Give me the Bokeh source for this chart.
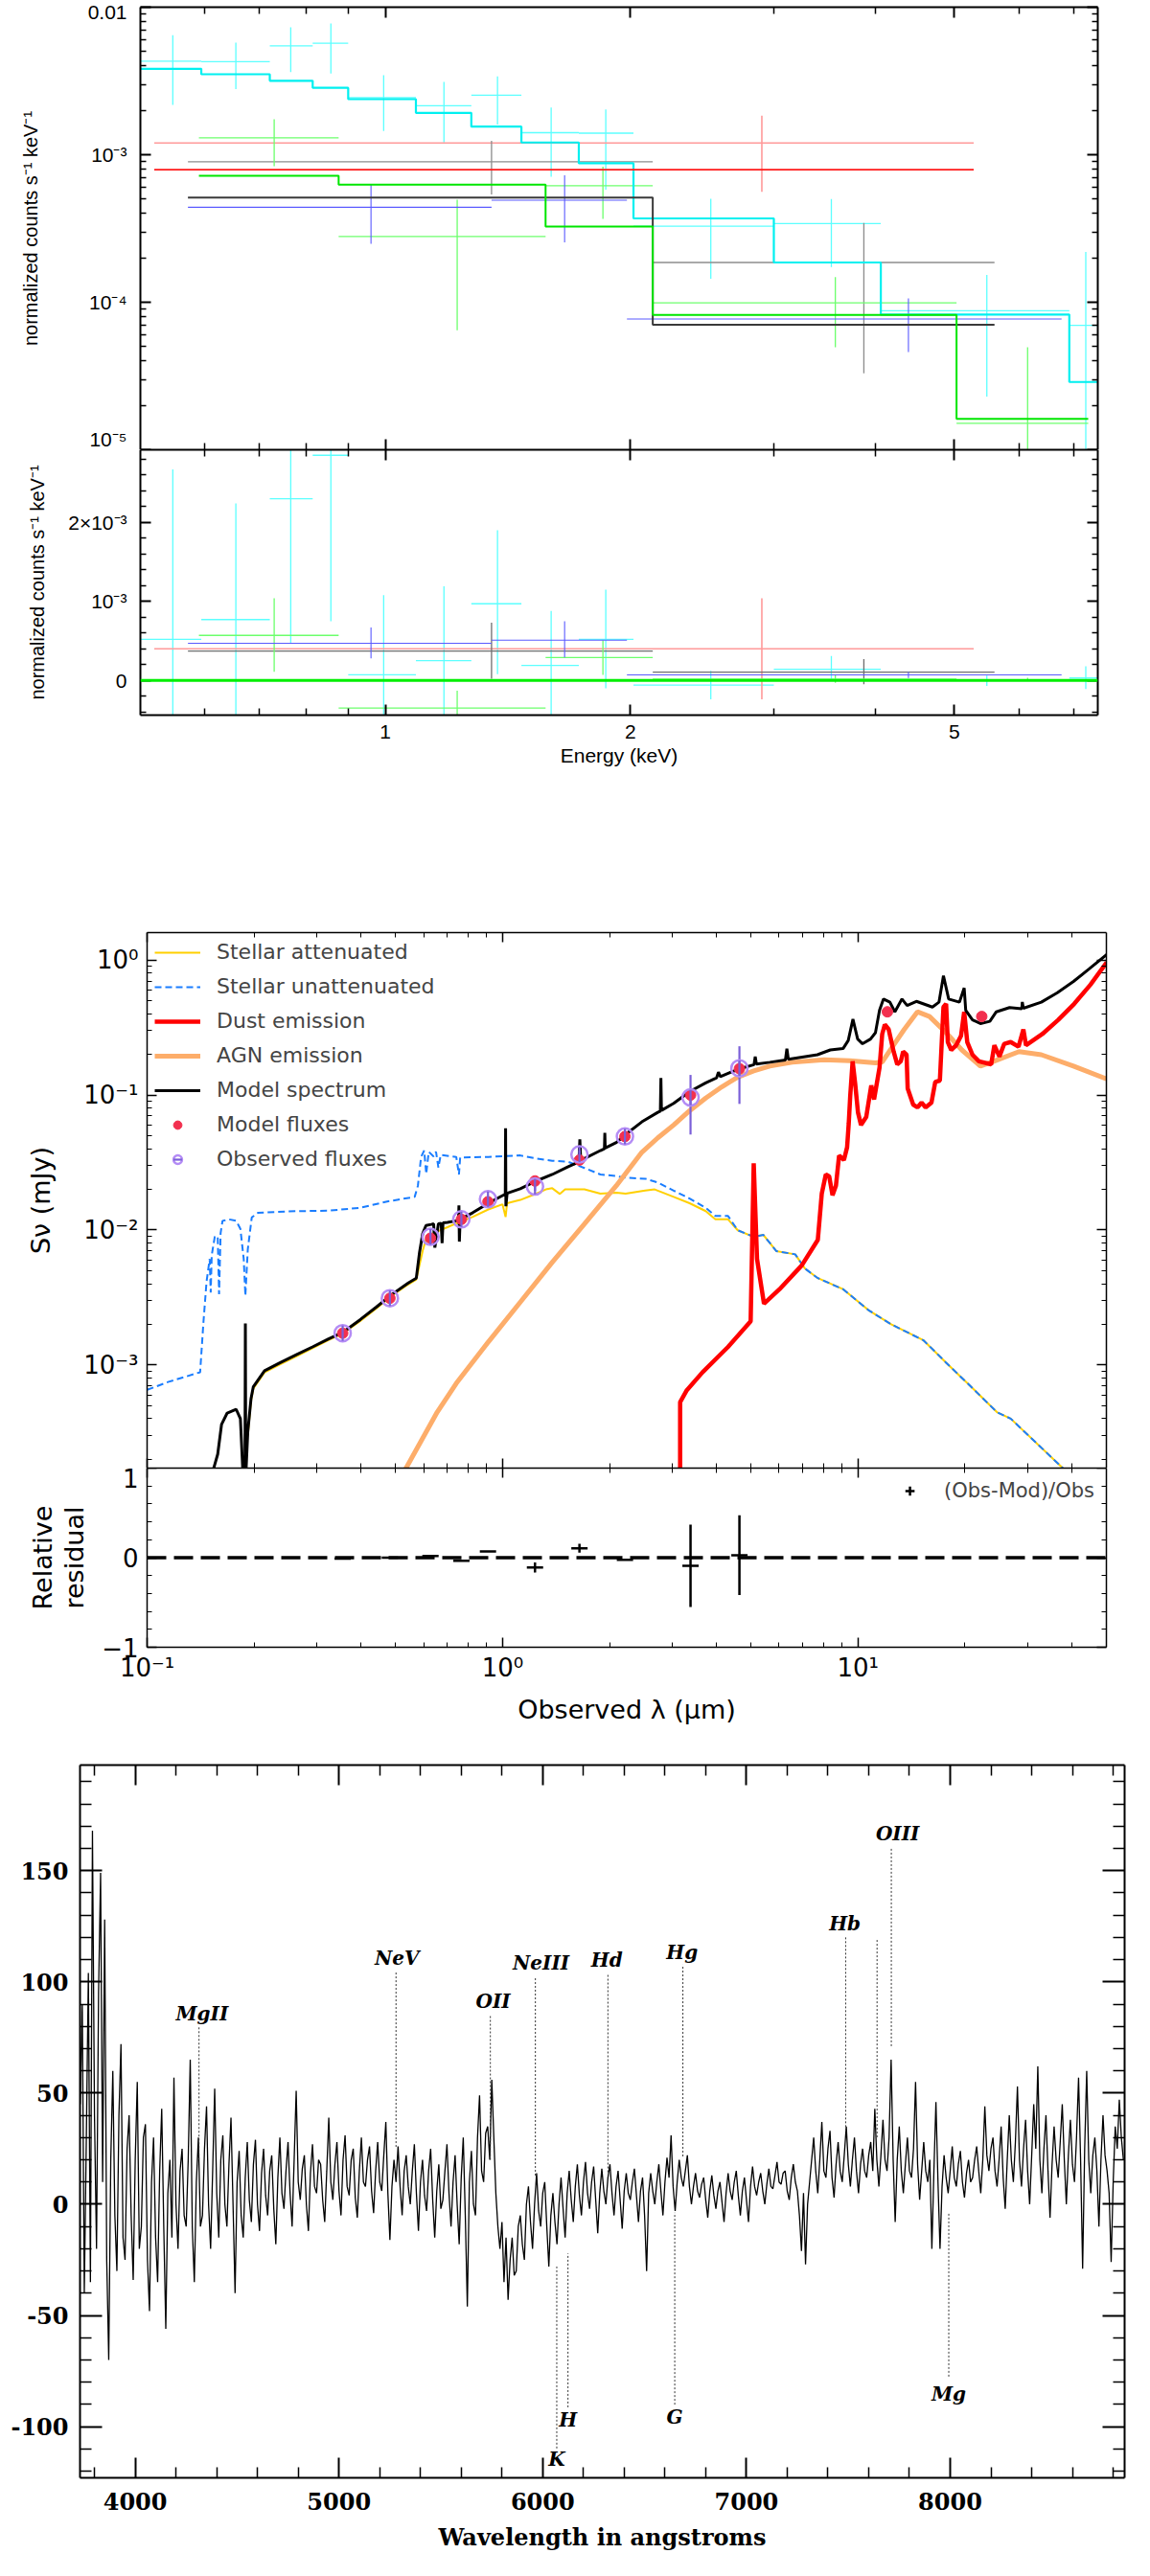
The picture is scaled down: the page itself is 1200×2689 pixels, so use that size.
import numpy as np
from bokeh.plotting import figure
from bokeh.layouts import column
from bokeh.models import Range1d, LogAxis, LinearAxis, FixedTicker, Legend, LegendItem, Span
from bokeh.core.properties import value
from bokeh.embed import file_html
from bokeh.resources import INLINE

# ---------------- X-ray spectra (5 datasets, normalized counts s^-1 keV^-1) ----------------
cyan_edges = [0.50, 0.594, 0.721, 0.814, 0.900, 1.090, 1.275, 1.469, 1.728, 2.017, 3.00, 4.06, 6.92, 7.50]
cyan_e = [0.548, 0.655, 0.765, 0.857, 0.995, 1.18, 1.373, 1.598, 1.865, 2.51, 3.53, 5.48, 7.25]
cyan_y = [4.31e-3, 4.27e-3, 5.47e-3, 5.69e-3, 2.44e-3, 2.15e-3, 2.53e-3, 1.41e-3, 1.40e-3, 3.28e-4, 3.41e-4, 8.75e-5, 6.98e-5]
cyan_hi = [6.45e-3, 5.75e-3, 7.31e-3, 7.76e-3, 3.46e-3, 3.12e-3, 3.40e-3, 2.09e-3, 2.03e-3, 5.03e-4, 5.00e-4, 1.53e-4, 2.19e-4]
cyan_lo = [2.18e-3, 2.79e-3, 3.63e-3, 3.55e-3, 1.45e-3, 1.21e-3, 1.60e-3, 7.1e-4, 5.8e-4, 1.44e-4, 1.73e-4, 2.29e-5, 8e-6]
cyan_mod = [3.82e-3, 3.51e-3, 3.17e-3, 2.84e-3, 2.38e-3, 1.92e-3, 1.55e-3, 1.21e-3, 8.75e-4, 3.70e-4, 1.86e-4, 8.26e-5, 2.88e-5]
cyan_res = [0.52e-3, 0.77e-3, 2.30e-3, 2.85e-3, 0.07e-3, 0.25e-3, 0.97e-3, 0.19e-3, 0.52e-3, -0.06e-3, 0.14e-3, 0.0, 0.03e-3]
cyan_res_hi = [2.67e-3, 2.24e-3, 4.1e-3, 4.9e-3, 1.08e-3, 1.19e-3, 1.90e-3, 0.88e-3, 1.15e-3, 0.12e-3, 0.31e-3, 0.06e-3, 0.18e-3]
cyan_res_lo = [-1.6e-3, -0.7e-3, 0.47e-3, 0.75e-3, -0.9e-3, -0.7e-3, 0.08e-3, -0.5e-3, -0.10e-3, -0.24e-3, -0.01e-3, -0.07e-3, -0.11e-3]

red_edges = [0.52, 5.28]
red_e = [2.9]
red_y = [1.2e-3]
red_hi = [1.84e-3]
red_lo = [5.6e-4]
red_mod = [7.92e-4]
red_res = [0.40e-3]
red_res_hi = [1.04e-3]
red_res_lo = [-0.24e-3]

gray_edges = [0.572, 2.13, 5.6]
gray_e = [1.35, 3.87]
gray_y = [8.95e-4, 1.86e-4]
gray_hi = [1.24e-3, 3.44e-4]
gray_lo = [5.37e-4, 3.3e-5]
gray_mod = [5.12e-4, 7.05e-5]
gray_res = [0.37e-3, 0.105e-3]
gray_res_hi = [0.73e-3, 0.27e-3]
gray_res_lo = [0.02e-3, -0.05e-3]

green_edges = [0.59, 0.876, 1.573, 2.13, 5.03, 7.3]
green_e = [0.73, 1.225, 1.85, 3.57, 6.15]
green_y = [1.3e-3, 2.79e-4, 6.17e-4, 9.9e-5, 1.51e-5]
green_hi = [1.74e-3, 4.95e-4, 8.3e-4, 1.48e-4, 4.95e-5]
green_lo = [8.37e-4, 6.45e-5, 3.67e-4, 4.95e-5, 9e-6]
green_mod = [7.2e-4, 6.27e-4, 3.26e-4, 8.2e-5, 1.62e-5]
green_res = [0.57e-3, -0.35e-3, 0.29e-3, 0.017e-3, 0.0]
green_res_hi = [1.04e-3, -0.13e-3, 0.51e-3, 0.066e-3, 0.034e-3]
green_res_lo = [0.11e-3, -0.56e-3, 0.07e-3, -0.032e-3, -0.007e-3]

blue_edges = [0.572, 1.35, 1.98, 6.77]
blue_e = [0.96, 1.66, 4.39]
blue_y = [4.4e-4, 4.92e-4, 7.69e-5]
blue_hi = [6.3e-4, 7.24e-4, 1.06e-4]
blue_lo = [2.49e-4, 2.55e-4, 4.6e-5]
blue_res = [0.47e-3, 0.51e-3, 0.07e-3]
blue_res_hi = [0.67e-3, 0.75e-3, 0.105e-3]
blue_res_lo = [0.28e-3, 0.29e-3, 0.03e-3]

# ---------------- SED fit (wavelength in micron, flux in mJy) ----------------
model_lam = [0.150, 0.154, 0.158, 0.162, 0.168, 0.178, 0.183, 0.1862, 0.1885, 0.1890,
             0.1895, 0.192, 0.196, 0.199, 0.214, 0.237, 0.263, 0.292, 0.324, 0.355,
             0.398, 0.442, 0.490, 0.543, 0.572, 0.584, 0.596, 0.609, 0.630, 0.640,
             0.645, 0.660, 0.672, 0.676, 0.680, 0.700, 0.741, 0.752, 0.754, 0.756,
             0.760, 0.823, 0.912, 1.000, 1.018, 1.020, 1.022, 1.030, 1.122, 1.245,
             1.380, 1.530, 1.640, 1.650, 1.660, 1.700, 1.885, 1.935, 1.940, 1.945,
             2.090, 2.220, 2.466, 2.735, 2.780, 2.790, 2.800, 3.030, 3.360, 3.730,
             4.000, 4.050, 4.100, 4.590, 5.100, 5.140, 5.180, 5.650, 6.250, 6.310,
             6.370, 7.690, 8.360, 9.080, 9.390, 9.680, 9.980, 10.30, 10.85, 11.20,
             11.50, 11.80, 12.30, 12.70, 13.30, 13.75, 14.60, 16.20, 16.90, 17.40,
             18.00, 19.30, 19.90, 20.10, 21.00, 22.10, 23.50, 24.50, 26.70, 28.90,
             29.00, 29.20, 32.80, 36.40, 40.40, 44.80, 50.10]
model_flux = [1.5e-4, 1.72e-4, 2.18e-4, 3.63e-4, 4.4e-4, 4.7e-4, 4.0e-4, 1.5e-4, 1.5e-4, 2.03e-3,
              1.5e-4, 3.2e-4, 5.6e-4, 6.9e-4, 9.06e-4, 1.04e-3, 1.19e-3, 1.36e-3, 1.56e-3, 1.74e-3,
              2.17e-3, 2.69e-3, 3.35e-3, 4.05e-3, 4.4e-3, 6.8e-3, 9.4e-3, 1.08e-2, 1.10e-2, 1.11e-2,
              7.4e-3, 1.11e-2, 1.12e-2, 8.0e-3, 1.13e-2, 1.14e-2, 1.17e-2, 1.17e-2, 1.52e-2, 8.2e-3,
              1.2e-2, 1.34e-2, 1.58e-2, 1.80e-2, 1.84e-2, 5.68e-2, 1.5e-2, 1.87e-2, 2.02e-2, 2.31e-2,
              2.58e-2, 2.95e-2, 3.2e-2, 4.69e-2, 3.25e-2, 3.39e-2, 3.88e-2, 4.0e-2, 5.24e-2, 4.05e-2,
              4.45e-2, 5.1e-2, 6.33e-2, 7.45e-2, 7.6e-2, 0.134, 7.7e-2, 8.68e-2, 0.106, 0.123,
              0.134, 0.148, 0.137, 0.155, 0.168, 0.193, 0.170, 0.175, 0.182, 0.221,
              0.184, 0.199, 0.216, 0.221, 0.254, 0.365, 0.26, 0.24, 0.26, 0.29,
              0.425, 0.515, 0.488, 0.414, 0.515, 0.461, 0.495, 0.449, 0.488, 0.766,
              0.515, 0.488, 0.622, 0.425, 0.361, 0.339, 0.352, 0.414, 0.445, 0.437,
              0.49, 0.44, 0.488, 0.574, 0.695, 0.864, 1.10]

att_lam = [0.192, 0.196, 0.199, 0.214, 0.237, 0.263, 0.292, 0.324, 0.355, 0.398,
           0.442, 0.490, 0.543, 0.572, 0.584, 0.596, 0.609, 0.640, 0.700, 0.741,
           0.823, 0.912, 1.000, 1.020, 1.030, 1.122, 1.245, 1.324, 1.380, 1.450,
           1.500, 1.700, 1.885, 2.090, 2.220, 2.520, 2.680, 3.030, 3.360, 3.730,
           3.970, 4.310, 4.590, 5.090, 5.420, 5.890, 6.660, 7.100, 7.710, 9.100,
           10.70, 12.40, 15.30, 17.70, 20.80, 24.60, 26.90, 37.70, 39.00]
att_flux = [3.0e-4, 5.4e-4, 6.7e-4, 8.8e-4, 1.01e-3, 1.16e-3, 1.33e-3, 1.53e-3, 1.71e-3, 2.12e-3,
            2.63e-3, 3.28e-3, 3.95e-3, 4.3e-3, 5.5e-3, 7.0e-3, 8.5e-3, 9.5e-3, 1.05e-2, 1.12e-2,
            1.25e-2, 1.42e-2, 1.55e-2, 1.25e-2, 1.58e-2, 1.67e-2, 1.86e-2, 2.0e-2, 2.04e-2, 1.85e-2,
            2.0e-2, 2.0e-2, 1.86e-2, 1.89e-2, 1.86e-2, 1.96e-2, 2.0e-2, 1.76e-2, 1.58e-2, 1.38e-2,
            1.2e-2, 1.2e-2, 9.95e-3, 8.9e-3, 9.2e-3, 6.98e-3, 6.6e-3, 5.17e-3, 4.4e-3, 3.63e-3,
            2.55e-3, 2.0e-3, 1.52e-3, 1.04e-3, 6.9e-4, 4.47e-4, 4.0e-4, 1.72e-4, 1.4e-4]

unatt_lam = [0.100, 0.115, 0.141, 0.144, 0.147, 0.150, 0.151, 0.152, 0.155, 0.158,
             0.1594, 0.161, 0.163, 0.170, 0.178, 0.183, 0.187, 0.189, 0.192, 0.197,
             0.205, 0.263, 0.324, 0.398, 0.470, 0.566, 0.578, 0.590, 0.602, 0.610,
             0.620, 0.640, 0.650, 0.660, 0.670, 0.741, 0.754, 0.760, 0.912, 1.122,
             1.245, 1.380, 1.530, 1.700, 1.885, 2.090, 2.220, 2.520, 2.735, 3.030,
             3.360, 3.730, 3.970, 4.310, 4.590, 5.090, 5.420, 5.890, 6.660, 7.100,
             7.710, 9.100, 10.70, 12.40, 15.30, 17.70, 20.80, 24.60, 26.90, 37.70,
             39.00]
unatt_flux = [6.54e-4, 7.5e-4, 8.83e-4, 2.05e-3, 4.16e-3, 6.1e-3, 3.44e-3, 6.5e-3, 8.9e-3, 9.0e-3,
              3.35e-3, 9.5e-3, 1.17e-2, 1.2e-2, 1.17e-2, 1.02e-2, 6.1e-3, 3.26e-3, 7.2e-3, 1.24e-2,
              1.34e-2, 1.38e-2, 1.39e-2, 1.46e-2, 1.62e-2, 1.76e-2, 2.13e-2, 3.48e-2, 3.88e-2, 2.6e-2,
              3.8e-2, 3.5e-2, 3.8e-2, 2.9e-2, 3.6e-2, 3.48e-2, 2.58e-2, 3.45e-2, 3.48e-2, 3.57e-2,
              3.39e-2, 3.26e-2, 3.2e-2, 2.88e-2, 2.58e-2, 2.51e-2, 2.44e-2, 2.4e-2, 2.25e-2, 1.96e-2,
              1.71e-2, 1.46e-2, 1.27e-2, 1.27e-2, 9.95e-3, 8.9e-3, 9.2e-3, 6.98e-3, 6.6e-3, 5.17e-3,
              4.4e-3, 3.63e-3, 2.55e-3, 2.0e-3, 1.52e-3, 1.04e-3, 6.9e-4, 4.47e-4, 4.0e-4, 1.72e-4,
              1.4e-4]

agn_lam = [0.52, 0.655, 0.741, 0.912, 1.122, 1.38, 1.70, 2.09, 2.466, 2.735,
           3.03, 3.36, 3.73, 4.14, 4.59, 5.09, 5.65, 6.53, 8.03, 9.48,
           11.2, 11.7, 12.4, 13.5, 14.7, 15.9, 17.7, 19.6, 22.1, 24.1,
           28.4, 32.8, 40.4, 50.0]
agn_flux = [1.5e-4, 4.47e-4, 7.3e-4, 1.48e-3, 2.92e-3, 5.77e-3, 1.11e-2, 2.13e-2, 3.77e-2, 4.82e-2,
            6.0e-2, 7.66e-2, 9.5e-2, 0.115, 0.136, 0.151, 0.164, 0.175, 0.183, 0.18,
            0.173, 0.176, 0.221, 0.307, 0.414, 0.382, 0.29, 0.216, 0.164, 0.178,
            0.21, 0.199, 0.164, 0.132]

dust_lam = [3.16, 3.16, 3.30, 3.65, 4.31, 4.99, 5.09, 5.20, 5.44, 6.01,
            6.95, 7.71, 7.91, 8.12, 8.30, 8.48, 8.67, 8.85, 9.13, 9.32,
            9.42, 9.51, 9.66, 9.82, 10.0, 10.2, 10.55, 10.9, 11.1, 11.5,
            11.7, 11.9, 12.2, 12.6, 12.9, 13.2, 13.4, 13.7, 13.8, 14.3,
            14.7, 15.1, 15.5, 16.1, 16.5, 17.0, 17.4, 17.7, 17.9, 18.3,
            18.9, 19.5, 19.9, 20.3, 21.0, 21.9, 23.7, 24.2, 25.0, 25.8,
            26.9, 28.3, 29.2, 29.7, 33.0, 36.6, 40.6, 45.1, 50.1]
dust_flux = [1.5e-4, 5.3e-4, 6.5e-4, 8.8e-4, 1.36e-3, 2.11e-3, 3.12e-2, 6.1e-3, 2.84e-3, 3.63e-3,
             5.47e-3, 8.45e-3, 1.86e-2, 2.58e-2, 2.5e-2, 1.81e-2, 2.13e-2, 3.57e-2, 3.3e-2, 4.1e-2,
             6.16e-2, 9.8e-2, 0.178, 0.122, 7.45e-2, 6.0e-2, 6.87e-2, 0.118, 9.27e-2, 0.16,
             0.283, 0.333, 0.307, 0.21, 0.169, 0.178, 0.21, 0.199, 0.112, 8.5e-2,
             8.1e-2, 8.8e-2, 8.1e-2, 8.8e-2, 0.125, 0.128, 0.449, 0.475, 0.247, 0.216,
             0.234, 0.275, 0.414, 0.247, 0.199, 0.178, 0.169, 0.234, 0.193, 0.24,
             0.247, 0.228, 0.307, 0.234, 0.283, 0.361, 0.475, 0.658, 0.963]

band_lam = [0.355, 0.482, 0.627, 0.766, 0.910, 1.234, 1.646, 2.210, 3.380, 4.640]
obs_flux = [1.72e-3, 3.12e-3, 8.9e-3, 1.20e-2, 1.69e-2, 2.10e-2, 3.63e-2, 4.93e-2, 9.6e-2, 0.158]
obs_err = [0.0, 0.0, 0.0, 0.0, 0.0, 1.5e-3, 2.5e-3, 0.0, 0.045, 0.072]
mod_lam = [0.355, 0.482, 0.627, 0.766, 0.910, 1.234, 1.646, 2.210, 3.380, 4.640, 12.1, 22.3]
mod_flux = [1.72e-3, 3.12e-3, 8.7e-3, 1.20e-2, 1.62e-2, 2.31e-2, 3.3e-2, 4.93e-2, 0.100, 0.157, 0.414, 0.382]
resid = [-0.01, 0.0, 0.02, -0.035, 0.07, -0.11, 0.105, -0.025, -0.09, 0.028]
resid_err = [0.0, 0.0, 0.0, 0.0, 0.0, 0.057, 0.05, 0.0, 0.46, 0.446]

# ---------------- optical spectrum (flux vs wavelength in angstroms, 10 A sampling) ----------------
spec_wave = np.arange(3730, 8851, 10)
spec_flux = [45, 90, -40, 30, 104, -35, 168, 40, -20, 95, 149, 10, 128, -25, -70, 20, 60, -5, -30, 40,
             72, -15, -25, 25, 40, -5, -34, 20, 55, -20, -10, 30, 36, -25, -48, 10, 30, -15, -35, 15,
             43, -10, -56, 5, 20, -15, 57, 0, -20, 15, 25, -5, -10, 20, 65, -10, -35, 10, 30, -10,
             -5, 25, 44, 0, -20, 15, 52, 5, -15, 20, 31, 0, -10, 18, 39, 0, -40, 10, 24, -5,
             -15, 12, 28, 2, -8, 18, 29, 0, -12, 14, 25, 4, -5, 15, 22, -2, -18, 12, 30, 5,
             -2, 15, 28, 5, -10, 20, 51, 10, 2, 16, 22, 0, -12, 14, 27, 8, 5, 20, 18, 2,
             -8, 15, 39, 10, 2, 18, 28, 6, -5, 20, 31, 8, 4, 20, 25, 3, -6, 15, 30, 10,
             8, 20, 26, 6, -4, 15, 28, 10, 6, 22, 37, 5, -16, 8, 20, 10, 26, 8, -5, 15,
             22, 8, 0, 15, 27, 5, -12, 10, 20, 4, -3, 15, 25, 2, -15, 6, 18, -2, 2, 15,
             27, 5, -10, 10, 22, 0, -18, 12, 30, -5, -46, 10, 24, 0, -5, 30, 49, 15, 10, 32,
             35, 20, 56, 30, 5, -10, -20, -8, -35, -15, -43, -25, -15, -32, -30, -10, -5, -18, -25, 0,
             8, -8, -20, 0, 14, -3, -10, 5, 10, -10, -28, -5, 5, -8, -18, 0, 12, -2, -15, 5,
             15, 2, -8, 8, 18, 4, -5, 10, 19, 5, -2, 10, 17, 2, -13, 5, 16, 6, 0, 12,
             18, 5, -5, 8, 15, 2, -11, 6, 14, 5, 2, 10, 16, 4, -8, 6, 12, -5, -30, 5,
             14, 6, 0, 10, 18, 6, -5, 10, 21, 12, 31, 8, -3, 10, 20, 12, 8, 15, 22, 8,
             0, 8, 14, 6, 3, 9, 12, 2, -6, 6, 13, 4, -2, 6, 10, 1, -8, 5, 14, 6,
             2, 10, 15, 4, -5, 6, 12, 2, -8, 8, 17, 8, 4, 10, 14, 6, 0, 9, 16, 8,
             7, 13, 19, 10, 9, 14, 15, 6, 2, 12, 18, 10, 6, -5, -21, 5, -27, 0, 10, 20,
             30, 15, 5, 20, 37, 15, 12, 25, 33, 12, 3, 18, 28, 15, 10, 22, 35, 18, 8, 20,
             30, 15, 5, 18, 25, 15, 12, 22, 28, 15, 43, 20, 8, 22, 38, 20, 15, 30, 65, 20,
             -8, 20, 35, 15, 5, 18, 30, 15, 12, 25, 55, 18, 2, 15, 28, 15, 10, 20, -20, 15,
             46, 10, -20, 8, 22, 12, 5, 15, 26, 12, 8, 18, 24, 10, 3, 14, 20, 10, 12, 20,
             26, 15, 5, 20, 44, 22, 15, 25, 30, 15, 8, 20, 35, 12, -2, 20, 40, 20, 10, 28,
             53, 20, 8, 25, 38, 15, 0, 22, 45, 25, 62, 20, 5, 25, 40, 15, -6, 18, 35, 20,
             12, 28, 45, 20, 0, 22, 38, 18, 10, 30, 57, 20, -29, 25, 60, 20, 5, 22, 30, 15,
             -10, 20, 40, 22, 15, 5, -26, 10, 35, 25, 47, 30, 20]

em_names = ["MgII", "NeV", "OII", "NeIII", "Hd", "Hg", "Hb", "OIII"]
em_wave = [4313, 5280, 5743, 5964, 6320, 6688, 7487, 7711]
em_top = [79.7, 104.8, 85.4, 101.9, 103.4, 107.7, 120.6, 160.5]
em_bot = [20.1, 25.8, 20.0, 12.9, 14.4, 21.5, 33.0, 71.1]
em_text_x = [4328, 5285, 5757, 5992, 6315, 6684, 7483, 7742]
em_text_y = [85.6, 110.6, 91.2, 108.4, 109.8, 113.4, 126.4, 166.5]
extra_wave = [7641]
extra_top = [119.2]
extra_bot = [30.1]
ab_names = ["K", "H", "G", "Mg"]
ab_wave = [6069, 6124, 6648, 7993]
ab_top = [-28.0, -22.1, -3.8, -3.8]
ab_bot = [-109.8, -91.3, -90.1, -77.5]
ab_text_y = [-114.5, -97.0, -95.5, -85.5]


def log_minor(decades):
    return [m * 10.0 ** d for d in decades for m in range(2, 10)]


def add_axis(p, cls, side, ticks, minor, labels=None, tin=10, tmin=5, lw=2,
             font="DejaVu Sans", size="20px", style="normal", standoff=8,
             title=None, title_size=None, title_standoff=10):
    ax = cls(ticker=FixedTicker(ticks=ticks, minor_ticks=minor))
    ax.major_tick_in, ax.major_tick_out = tin, 0
    ax.minor_tick_in, ax.minor_tick_out = tmin, 0
    ax.axis_line_width = lw
    ax.major_tick_line_width = lw
    ax.minor_tick_line_width = max(1, lw - 0.5)
    if labels is None:
        # tick marks only, no tick text on this side
        ax.major_label_overrides = {t: "" for t in ticks}
        ax.major_label_text_font_size = "1px"
        ax.major_label_standoff = 0
    else:
        ax.major_label_overrides = dict(zip(ticks, labels))
        ax.major_label_text_font = font
        ax.major_label_text_font_size = size
        ax.major_label_text_font_style = style
        ax.major_label_text_color = "black"
        ax.major_label_standoff = standoff
    if title is not None:
        ax.axis_label = title
        ax.axis_label_text_font = font
        ax.axis_label_text_font_size = title_size or size
        ax.axis_label_text_font_style = style
        ax.axis_label_text_color = "black"
        ax.axis_label_standoff = title_standoff
    p.add_layout(ax, side)
    return ax


def base_fig(**kw):
    p = figure(toolbar_location=None, output_backend="svg",
               x_axis_location=None, y_axis_location=None, **kw)
    p.grid.grid_line_color = None
    p.outline_line_color = None
    return p


def xcross(p, edges, e, y, lo, hi, color, lw=1.3):
    p.segment(x0=edges[:-1], x1=edges[1:], y0=y, y1=y, line_color=color, line_width=lw)
    p.segment(x0=e, x1=e, y0=lo, y1=hi, line_color=color, line_width=lw)


def model_step(p, edges, mod, color, lw=2):
    p.step(x=edges, y=list(mod) + [mod[-1]], mode="after", line_color=color, line_width=lw)


XF = "Liberation Sans"
e_ticks = [1, 2, 5]
e_minor = [0.6, 0.7, 0.8, 0.9, 3, 4, 6, 7]
e_range = Range1d(0.5, 7.5)

# ---- panel A: X-ray spectra ----
pa = base_fig(x_axis_type="log", y_axis_type="log", x_range=e_range, y_range=Range1d(1e-5, 1e-2),
              frame_width=999, frame_height=462, min_border_left=146, min_border_right=30,
              min_border_top=7, min_border_bottom=0)
cy_ticks = [1e-5, 1e-4, 1e-3, 1e-2]
add_axis(pa, LogAxis, "left", cy_ticks, log_minor([-5, -4, -3]), ["10⁻⁵", "10⁻⁴", "10⁻³", "0.01"],
         tin=11, tmin=6, font=XF, size="21px", standoff=14,
         title="normalized counts s⁻¹ keV⁻¹", title_size="20px", title_standoff=46)
add_axis(pa, LogAxis, "right", cy_ticks, log_minor([-5, -4, -3]), tin=11, tmin=6)
add_axis(pa, LogAxis, "above", e_ticks, e_minor, tin=11, tmin=7)
add_axis(pa, LogAxis, "below", e_ticks, e_minor, tin=11, tmin=7)

xcross(pa, cyan_edges, cyan_e, cyan_y, cyan_lo, cyan_hi, "#5cffff")
xcross(pa, red_edges, red_e, red_y, red_lo, red_hi, "#ff9a9a", lw=1.6)
xcross(pa, gray_edges, gray_e, gray_y, gray_lo, gray_hi, "#8c8c8c")
xcross(pa, green_edges, green_e, green_y, green_lo, green_hi, "#6cff6c")
xcross(pa, blue_edges, blue_e, blue_y, blue_lo, blue_hi, "#5a5aff", lw=1.1)
model_step(pa, cyan_edges, cyan_mod, "#00f0f0", lw=2.2)
model_step(pa, red_edges, red_mod, "#ff1a1a", lw=1.6)
model_step(pa, gray_edges, gray_mod, "#3a3a3a", lw=2)
model_step(pa, green_edges, green_mod, "#00e600", lw=2)

# ---- panel B: X-ray residuals ----
pb = base_fig(x_axis_type="log", x_range=e_range, y_range=Range1d(-0.00044, 0.00292),
              frame_width=999, frame_height=277, min_border_left=146, min_border_right=30,
              min_border_top=0, min_border_bottom=207)
r_ticks = [0.0, 0.001, 0.002]
r_minor = [v * 1e-4 for v in range(-4, 30, 2) if v % 10]
add_axis(pb, LinearAxis, "left", r_ticks, r_minor, ["0", "10⁻³", "2×10⁻³"],
         tin=11, tmin=6, font=XF, size="21px", standoff=14,
         title="normalized counts s⁻¹ keV⁻¹", title_size="20px", title_standoff=18)
add_axis(pb, LinearAxis, "right", r_ticks, r_minor, tin=11, tmin=6)
add_axis(pb, LogAxis, "above", e_ticks, e_minor, tin=11, tmin=7)
add_axis(pb, LogAxis, "below", e_ticks, e_minor, ["1", "2", "5"], tin=11, tmin=7,
         font=XF, size="21px", standoff=10, title="Energy (keV)", title_size="21px", title_standoff=3)

xcross(pb, cyan_edges, cyan_e, cyan_res, cyan_res_lo, cyan_res_hi, "#5cffff")
xcross(pb, red_edges, red_e, red_res, red_res_lo, red_res_hi, "#ff9a9a", lw=1.6)
xcross(pb, gray_edges, gray_e, gray_res, gray_res_lo, gray_res_hi, "#6e6e6e")
xcross(pb, green_edges, green_e, green_res, green_res_lo, green_res_hi, "#6cff6c")
xcross(pb, blue_edges, blue_e, blue_res, blue_res_lo, blue_res_hi, "#5a5aff", lw=1.1)
pb.add_layout(Span(location=0, dimension="width", line_color="#00ee00", line_width=3))

# ---- panel C: SED ----
SF = "DejaVu Sans"
lam_range = Range1d(0.1, 50)
lam_ticks = [0.1, 1, 10]
lam_minor = log_minor([-1, 0]) + [20, 30, 40]
pc = base_fig(x_axis_type="log", y_axis_type="log", x_range=lam_range, y_range=Range1d(1.72e-4, 1.6),
              frame_width=1001, frame_height=559, min_border_left=153, min_border_right=20,
              min_border_top=20, min_border_bottom=0)
s_ticks = [1e-3, 1e-2, 1e-1, 1.0]
s_minor = [v for v in log_minor([-4, -3, -2, -1]) if v > 1.72e-4]
add_axis(pc, LogAxis, "left", s_ticks, s_minor, ["10⁻³", "10⁻²", "10⁻¹", "10⁰"],
         tin=10, tmin=5, lw=1.5, font=SF, size="26px", standoff=9,
         title="Sν (mJy)", title_size="27px", title_standoff=26)
add_axis(pc, LogAxis, "right", s_ticks, s_minor, tin=10, tmin=5, lw=1.5)
add_axis(pc, LogAxis, "above", lam_ticks, lam_minor, tin=10, tmin=5, lw=1.5)
add_axis(pc, LogAxis, "below", lam_ticks, lam_minor, tin=10, tmin=5, lw=1.5)

r_att = pc.line(att_lam, att_flux, line_color="#ffd000", line_width=2)
r_unatt = pc.line(unatt_lam, unatt_flux, line_color="#1a7dff", line_width=2, line_dash="7 4")
r_agn = pc.line(agn_lam, agn_flux, line_color="#fdad6a", line_width=5)
r_dust = pc.line(dust_lam, dust_flux, line_color="#ff0000", line_width=4.5)
r_model = pc.line(model_lam, model_flux, line_color="black", line_width=3)
obs_lo = [f - e for f, e in zip(obs_flux, obs_err)]
obs_hi = [f + e for f, e in zip(obs_flux, obs_err)]
pc.segment(x0=band_lam, x1=band_lam, y0=obs_lo, y1=obs_hi, line_color="#7a5fd8", line_width=2.2)
r_mf = pc.scatter(mod_lam, mod_flux, marker="circle", size=11, fill_color="#f2304f", line_color="#f2304f")
r_oc = pc.scatter(band_lam, obs_flux, marker="circle", size=17, fill_color=None,
                  line_color="#b48cf5", line_width=2.5)
r_ob = pc.scatter(band_lam, obs_flux, marker="dash", angle=np.pi / 2, size=16,
                  line_color="#7a5fd8", line_width=2.2)

leg = Legend(items=[
    LegendItem(label="Stellar attenuated", renderers=[r_att]),
    LegendItem(label="Stellar unattenuated", renderers=[r_unatt]),
    LegendItem(label="Dust emission", renderers=[r_dust]),
    LegendItem(label="AGN emission", renderers=[r_agn]),
    LegendItem(label="Model spectrum", renderers=[r_model]),
    LegendItem(label="Model fluxes", renderers=[r_mf]),
    LegendItem(label="Observed fluxes", renderers=[r_oc, r_ob]),
], location="top_left")
leg.label_text_font = SF
leg.label_text_font_size = "22px"
leg.glyph_width = 48
leg.glyph_height = 22
leg.label_height = 22
leg.spacing = 11
leg.padding = 10
leg.margin = 8
leg.label_standoff = 17
leg.border_line_color = None
leg.background_fill_alpha = 0
pc.add_layout(leg)

# ---- panel D: SED residuals ----
pdr = base_fig(x_axis_type="log", x_range=lam_range, y_range=Range1d(-1, 1),
               frame_width=1001, frame_height=187, min_border_left=153, min_border_right=20,
               min_border_top=0, min_border_bottom=103)
d_minor = [v / 10 for v in range(-8, 10, 2) if v != 0]
add_axis(pdr, LinearAxis, "left", [-1, 0, 1], d_minor, ["−1", "0", "1"],
         tin=10, tmin=5, lw=1.5, font=SF, size="26px", standoff=9,
         title="residual", title_size="27px", title_standoff=10)
# second title line ("Relative") carried by an outer, tick-less left axis
outer = LinearAxis(ticker=FixedTicker(ticks=[]), axis_line_color=None,
                   major_tick_line_color=None, minor_tick_line_color=None,
                   major_label_text_font_size="1px", major_label_standoff=0,
                   axis_label="Relative", axis_label_text_font=SF, axis_label_text_font_size="27px",
                   axis_label_text_font_style="normal", axis_label_text_color="black",
                   axis_label_standoff=0)
pdr.add_layout(outer, "left")
add_axis(pdr, LinearAxis, "right", [-1, 0, 1], d_minor, tin=10, tmin=5, lw=1.5)
add_axis(pdr, LogAxis, "above", lam_ticks, lam_minor, tin=10, tmin=5, lw=1.5)
add_axis(pdr, LogAxis, "below", lam_ticks, lam_minor, ["10⁻¹", "10⁰", "10¹"],
         tin=10, tmin=5, lw=1.5, font=SF, size="26px", standoff=6,
         title="Observed λ (μm)", title_size="27px", title_standoff=10)
pdr.add_layout(Span(location=0, dimension="width", line_color="black", line_width=3.3, line_dash="20 8"))
res_lo = [r - e for r, e in zip(resid, resid_err)]
res_hi = [r + e for r, e in zip(resid, resid_err)]
pdr.segment(x0=band_lam, x1=band_lam, y0=res_lo, y1=res_hi, line_color="black", line_width=2.5)
pdr.scatter(band_lam, resid, marker="dash", size=17, line_color="black", line_width=2.5)
# legend-only renderer (hidden), the legend keeps full opacity
r_rl = pdr.scatter(band_lam, resid, marker="cross", size=20, line_color="black", line_width=2.5, visible=False)
leg2 = Legend(items=[LegendItem(label="(Obs-Mod)/Obs", renderers=[r_rl])], location="top_right")
leg2.label_text_font = SF
leg2.label_text_font_size = "21px"
leg2.glyph_width = 24
leg2.glyph_height = 24
leg2.label_height = 24
leg2.label_standoff = 24
leg2.padding = 10
leg2.margin = 12
leg2.border_line_color = None
leg2.background_fill_alpha = 0
leg2.inactive_fill_alpha = 0
pdr.add_layout(leg2)

# ---- panel E: optical spectrum ----
OF = "DejaVu Serif"
pe = base_fig(x_range=Range1d(3729, 8856), y_range=Range1d(-123, 197.5),
              width=1183, height=851, min_border_left=83, min_border_right=10,
              min_border_top=20, min_border_bottom=87)
w_ticks = [4000, 5000, 6000, 7000, 8000]
w_minor = [w for w in range(3800, 8900, 200) if w % 1000]
f_ticks = [-100, -50, 0, 50, 100, 150]
f_minor = [v for v in range(-120, 200, 10) if v % 50]
add_axis(pe, LinearAxis, "left", f_ticks, f_minor, [str(v) for v in f_ticks],
         tin=23, tmin=12, lw=2, font=OF, size="24px", style="bold", standoff=12)
add_axis(pe, LinearAxis, "right", f_ticks, f_minor, tin=23, tmin=12, lw=2)
add_axis(pe, LinearAxis, "above", w_ticks, w_minor, tin=21, tmin=11, lw=2)
add_axis(pe, LinearAxis, "below", w_ticks, w_minor, [str(v) for v in w_ticks],
         tin=21, tmin=11, lw=2, font=OF, size="24px", style="bold", standoff=15,
         title="Wavelength in angstroms", title_size="24px", title_standoff=11)

pe.line(spec_wave, spec_flux, line_color="black", line_width=1.3)
pe.segment(x0=em_wave, x1=em_wave, y0=em_bot, y1=em_top, line_color="#333333", line_width=1, line_dash="2 2")
pe.segment(x0=extra_wave, x1=extra_wave, y0=extra_bot, y1=extra_top, line_color="#333333", line_width=1, line_dash="2 2")
pe.segment(x0=ab_wave, x1=ab_wave, y0=ab_bot, y1=ab_top, line_color="#333333", line_width=1, line_dash="2 2")
pe.text(x=em_text_x, y=em_text_y, text=em_names, text_font=value(OF), text_font_style="bold italic",
        text_font_size="20px", text_align="center", text_baseline="middle", text_color="black")
pe.text(x=ab_wave, y=ab_text_y, text=ab_names, text_font=value(OF), text_font_style="bold italic",
        text_font_size="20px", text_align="center", text_baseline="middle", text_color="black")

# separate groups so that each pair of stacked panels keeps its own frame alignment
xray = column(pa, pb, spacing=0)
sed = column(pc, pdr, spacing=0)
page = column(xray, sed, pe, spacing=0)
open("out.html", "w").write(file_html(page, INLINE, "chart"))
